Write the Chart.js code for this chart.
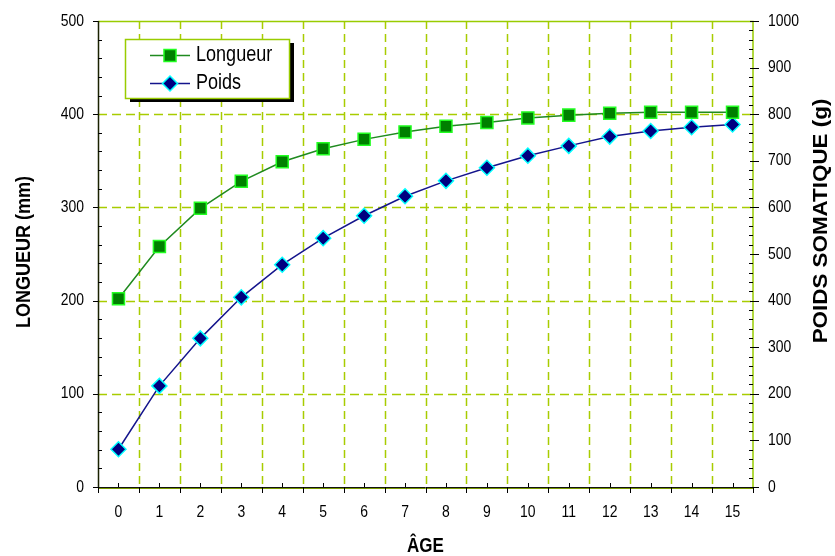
<!DOCTYPE html>
<html>
<head>
<meta charset="utf-8">
<script src="https://cdn.jsdelivr.net/npm/chart.js@4/dist/chart.umd.min.js"></script>
<style>
  html, body { margin: 0; padding: 0; background: #ffffff; }
  #wrap { width: 835px; height: 556px; position: relative; }
</style>
</head>
<body>
<div id="wrap"><canvas id="c" width="835" height="556"></canvas></div>
<script>
// Age classes (years)
const ages = ['0', '1', '2', '3', '4', '5', '6', '7', '8', '9', '10', '11', '12', '13', '14', '15'];
// Mean length at age (mm)
const longueur = [202, 258, 299, 328, 349, 363, 373, 381, 387, 391, 396, 399, 401, 402, 402, 402];
// Mean somatic weight at age (g)
const poids = [81, 217, 319, 407, 477, 534, 582, 624, 657, 685, 711, 732, 752, 764, 772, 778];
// Axis tick values
const longueurTicks = [0, 100, 200, 300, 400, 500];
const poidsTicks = [0, 100, 200, 300, 400, 500, 600, 700, 800, 900, 1000];

const SANS = '"Liberation Sans", Arial, sans-serif';
const NARROW_X = 0.82;          // horizontal squeeze giving a narrow face
const GRID = '#a8cc00';
const FRAME_GREEN = '#99cc00';

const seriesStyle = {
  longueur: { borderColor: '#1f8a1f', pointStyle: 'rect', pointRadius: 8.5, pointBackgroundColor: '#008000', pointBorderColor: '#22ff22', pointBorderWidth: 1.5 },
  poids: { borderColor: '#14148c', pointStyle: 'rectRot', pointRadius: 7.5, pointBackgroundColor: '#000080', pointBorderColor: '#00ffff', pointBorderWidth: 1.5 }
};

// Draws text squeezed (or stretched) horizontally by sx, optionally rotated
function narrowText(ctx, text, x, y, font, sx, align, rot) {
  ctx.save();
  ctx.translate(x, y);
  if (rot) ctx.rotate(rot);
  ctx.scale(sx, 1);
  ctx.font = font;
  ctx.textAlign = align;
  ctx.textBaseline = 'middle';
  ctx.fillText(text, 0, 0);
  ctx.restore();
}

// Frame, dashed grid and tick marks, drawn under the series
const framePlugin = {
  id: 'frame',
  beforeDatasetsDraw(chart) {
    const { ctx, chartArea: a, scales } = chart;
    const x = scales.x, yL = scales.y, yR = scales.y2;
    ctx.save();
    ctx.lineWidth = 1.5;
    ctx.strokeStyle = GRID;
    // horizontal dashed grid
    ctx.setLineDash([9, 5]);
    longueurTicks.forEach(v => {
      if (v === 0 || v === 500) return;
      const py = Math.round(yL.getPixelForValue(v)) + 0.5;
      ctx.beginPath(); ctx.moveTo(a.left, py); ctx.lineTo(a.right, py); ctx.stroke();
    });
    // vertical dashed grid at category boundaries
    ctx.setLineDash([8, 5]);
    for (let i = 1; i < ages.length; i++) {
      const px = Math.round((x.getPixelForValue(i - 1) + x.getPixelForValue(i)) / 2) + 0.5;
      ctx.beginPath(); ctx.moveTo(px, a.top); ctx.lineTo(px, a.bottom); ctx.stroke();
    }
    ctx.setLineDash([]);
    // top and right border
    ctx.strokeStyle = FRAME_GREEN;
    ctx.lineWidth = 1.5;
    ctx.beginPath(); ctx.moveTo(a.left, a.top + 0.5); ctx.lineTo(a.right, a.top + 0.5); ctx.lineTo(a.right, a.bottom); ctx.stroke();
    // bottom axis
    ctx.strokeStyle = '#7a9a00';
    ctx.lineWidth = 1;
    ctx.beginPath(); ctx.moveTo(a.left, a.bottom + 1.5); ctx.lineTo(a.right, a.bottom + 1.5); ctx.stroke();
    ctx.strokeStyle = '#111';
    ctx.beginPath(); ctx.moveTo(a.left - 5, a.bottom + 0.5); ctx.lineTo(a.right + 5, a.bottom + 0.5); ctx.stroke();
    // left axis
    ctx.strokeStyle = '#1a2200';
    ctx.lineWidth = 1.5;
    ctx.beginPath(); ctx.moveTo(a.left + 0.5, a.top); ctx.lineTo(a.left + 0.5, a.bottom + 1); ctx.stroke();
    // tick marks
    ctx.strokeStyle = '#000';
    ctx.lineWidth = 1;
    for (let v = 0; v <= 500; v += 20) {
      const py = Math.round(yL.getPixelForValue(v)) + 0.5;
      ctx.beginPath();
      if (v % 100 === 0) { ctx.moveTo(a.left - 5, py); ctx.lineTo(a.left, py); }
      else { ctx.moveTo(a.left, py); ctx.lineTo(a.left + 4, py); }
      ctx.stroke();
    }
    for (let v = 0; v <= 1000; v += 20) {
      const py = Math.round(yR.getPixelForValue(v)) + 0.5;
      ctx.beginPath();
      if (v % 100 === 0) { ctx.moveTo(a.right - 3, py); ctx.lineTo(a.right + 6, py); }
      else { ctx.moveTo(a.right - 4, py); ctx.lineTo(a.right, py); }
      ctx.stroke();
    }
    for (let i = 0; i <= ages.length; i++) {
      const px = Math.round(i === ages.length ? a.right : (i === 0 ? a.left : (x.getPixelForValue(i - 1) + x.getPixelForValue(i)) / 2)) + 0.5;
      ctx.beginPath(); ctx.moveTo(px, a.bottom); ctx.lineTo(px, a.bottom + 6); ctx.stroke();
    }
    for (let i = 0; i < ages.length; i++) {
      const px = Math.round(x.getPixelForValue(i)) + 0.5;
      ctx.beginPath(); ctx.moveTo(px, a.bottom - 4); ctx.lineTo(px, a.bottom); ctx.stroke();
    }
    ctx.restore();
  },
  // tick labels in a narrow face, placed from the scales' own tick positions
  afterDraw(chart) {
    const { ctx, scales } = chart;
    const f = '17px ' + SANS;
    ctx.save();
    ctx.fillStyle = '#000';
    scales.x.ticks.forEach((t, i) => {
      narrowText(ctx, ages[t.value] !== undefined ? ages[t.value] : String(t.label), scales.x.getPixelForTick(i), 512.5, f, NARROW_X, 'center');
    });
    scales.y.ticks.forEach((t, i) => {
      narrowText(ctx, String(t.value), 84, scales.y.getPixelForTick(i), f, NARROW_X, 'right');
    });
    scales.y2.ticks.forEach((t, i) => {
      narrowText(ctx, String(t.value), 768, scales.y2.getPixelForTick(i), f, NARROW_X, 'left');
    });
    ctx.restore();
  }
};

// Axis titles and the boxed legend with its drop shadow
const decorPlugin = {
  id: 'decor',
  afterDatasetsDraw(chart) {
    const { ctx, chartArea: a } = chart;
    ctx.save();
    ctx.fillStyle = '#000';
    narrowText(ctx, 'ÂGE', (a.left + a.right) / 2, 546, 'bold 20px ' + SANS, 0.85, 'center');
    narrowText(ctx, 'LONGUEUR (mm)', 24, 252, 'bold 20px ' + SANS, 0.9, 'center', -Math.PI / 2);
    narrowText(ctx, 'POIDS SOMATIQUE (g)', 821, 221, 'bold 20px ' + SANS, 1.12, 'center', -Math.PI / 2);

    // legend
    const bx = 125, by = 39, bw = 164, bh = 59;
    ctx.fillStyle = '#000';
    ctx.fillRect(bx + 5, by + 4, bw, bh);
    ctx.fillStyle = '#fff';
    ctx.fillRect(bx, by, bw, bh);
    ctx.strokeStyle = FRAME_GREEN;
    ctx.lineWidth = 1.5;
    ctx.strokeRect(bx + 0.5, by + 0.5, bw, bh);
    const rows = [
      { label: 'Longueur', st: seriesStyle.longueur, y: 55 },
      { label: 'Poids', st: seriesStyle.poids, y: 83 }
    ];
    rows.forEach(r => {
      ctx.strokeStyle = r.st.borderColor;
      ctx.lineWidth = 1.5;
      ctx.beginPath(); ctx.moveTo(150, r.y + 0.5); ctx.lineTo(190, r.y + 0.5); ctx.stroke();
      ctx.fillStyle = r.st.pointBackgroundColor;
      ctx.strokeStyle = r.st.pointBorderColor;
      ctx.lineWidth = r.st.pointBorderWidth;
      Chart.helpers.drawPoint(ctx, { pointStyle: r.st.pointStyle, radius: r.st.pointRadius, borderWidth: r.st.pointBorderWidth }, 170, r.y + 0.5);
      ctx.fillStyle = '#000';
      narrowText(ctx, r.label, 196, r.y, '22px ' + SANS, NARROW_X, 'left');
    });
    ctx.restore();
  }
};

new Chart(document.getElementById('c'), {
  type: 'line',
  data: {
    labels: ages,
    datasets: [
      Object.assign({ label: 'Longueur', data: longueur, yAxisID: 'y', borderWidth: 1.5, tension: 0 }, seriesStyle.longueur),
      Object.assign({ label: 'Poids', data: poids, yAxisID: 'y2', borderWidth: 1.5, tension: 0 }, seriesStyle.poids)
    ]
  },
  options: {
    responsive: false,
    devicePixelRatio: 1,
    animation: false,
    layout: { padding: { top: 21, left: 0, right: 0, bottom: 0 } },
    plugins: { legend: { display: false }, tooltip: { enabled: false } },
    scales: {
      x: {
        type: 'category',
        offset: true,
        grid: { display: false, drawTicks: false },
        border: { display: false },
        ticks: { display: false, autoSkip: false },
        afterFit(s) { s.height = 69; }
      },
      y: {
        position: 'left',
        min: 0, max: 500,
        afterBuildTicks(s) { s.ticks = longueurTicks.map(v => ({ value: v })); },
        grid: { display: false, drawTicks: false },
        border: { display: false },
        ticks: { display: false },
        afterFit(s) { s.width = 98; }
      },
      y2: {
        position: 'right',
        min: 0, max: 1000,
        afterBuildTicks(s) { s.ticks = poidsTicks.map(v => ({ value: v })); },
        grid: { display: false, drawTicks: false },
        border: { display: false },
        ticks: { display: false },
        afterFit(s) { s.width = 82; }
      }
    }
  },
  plugins: [framePlugin, decorPlugin]
});
</script>
</body>
</html>
